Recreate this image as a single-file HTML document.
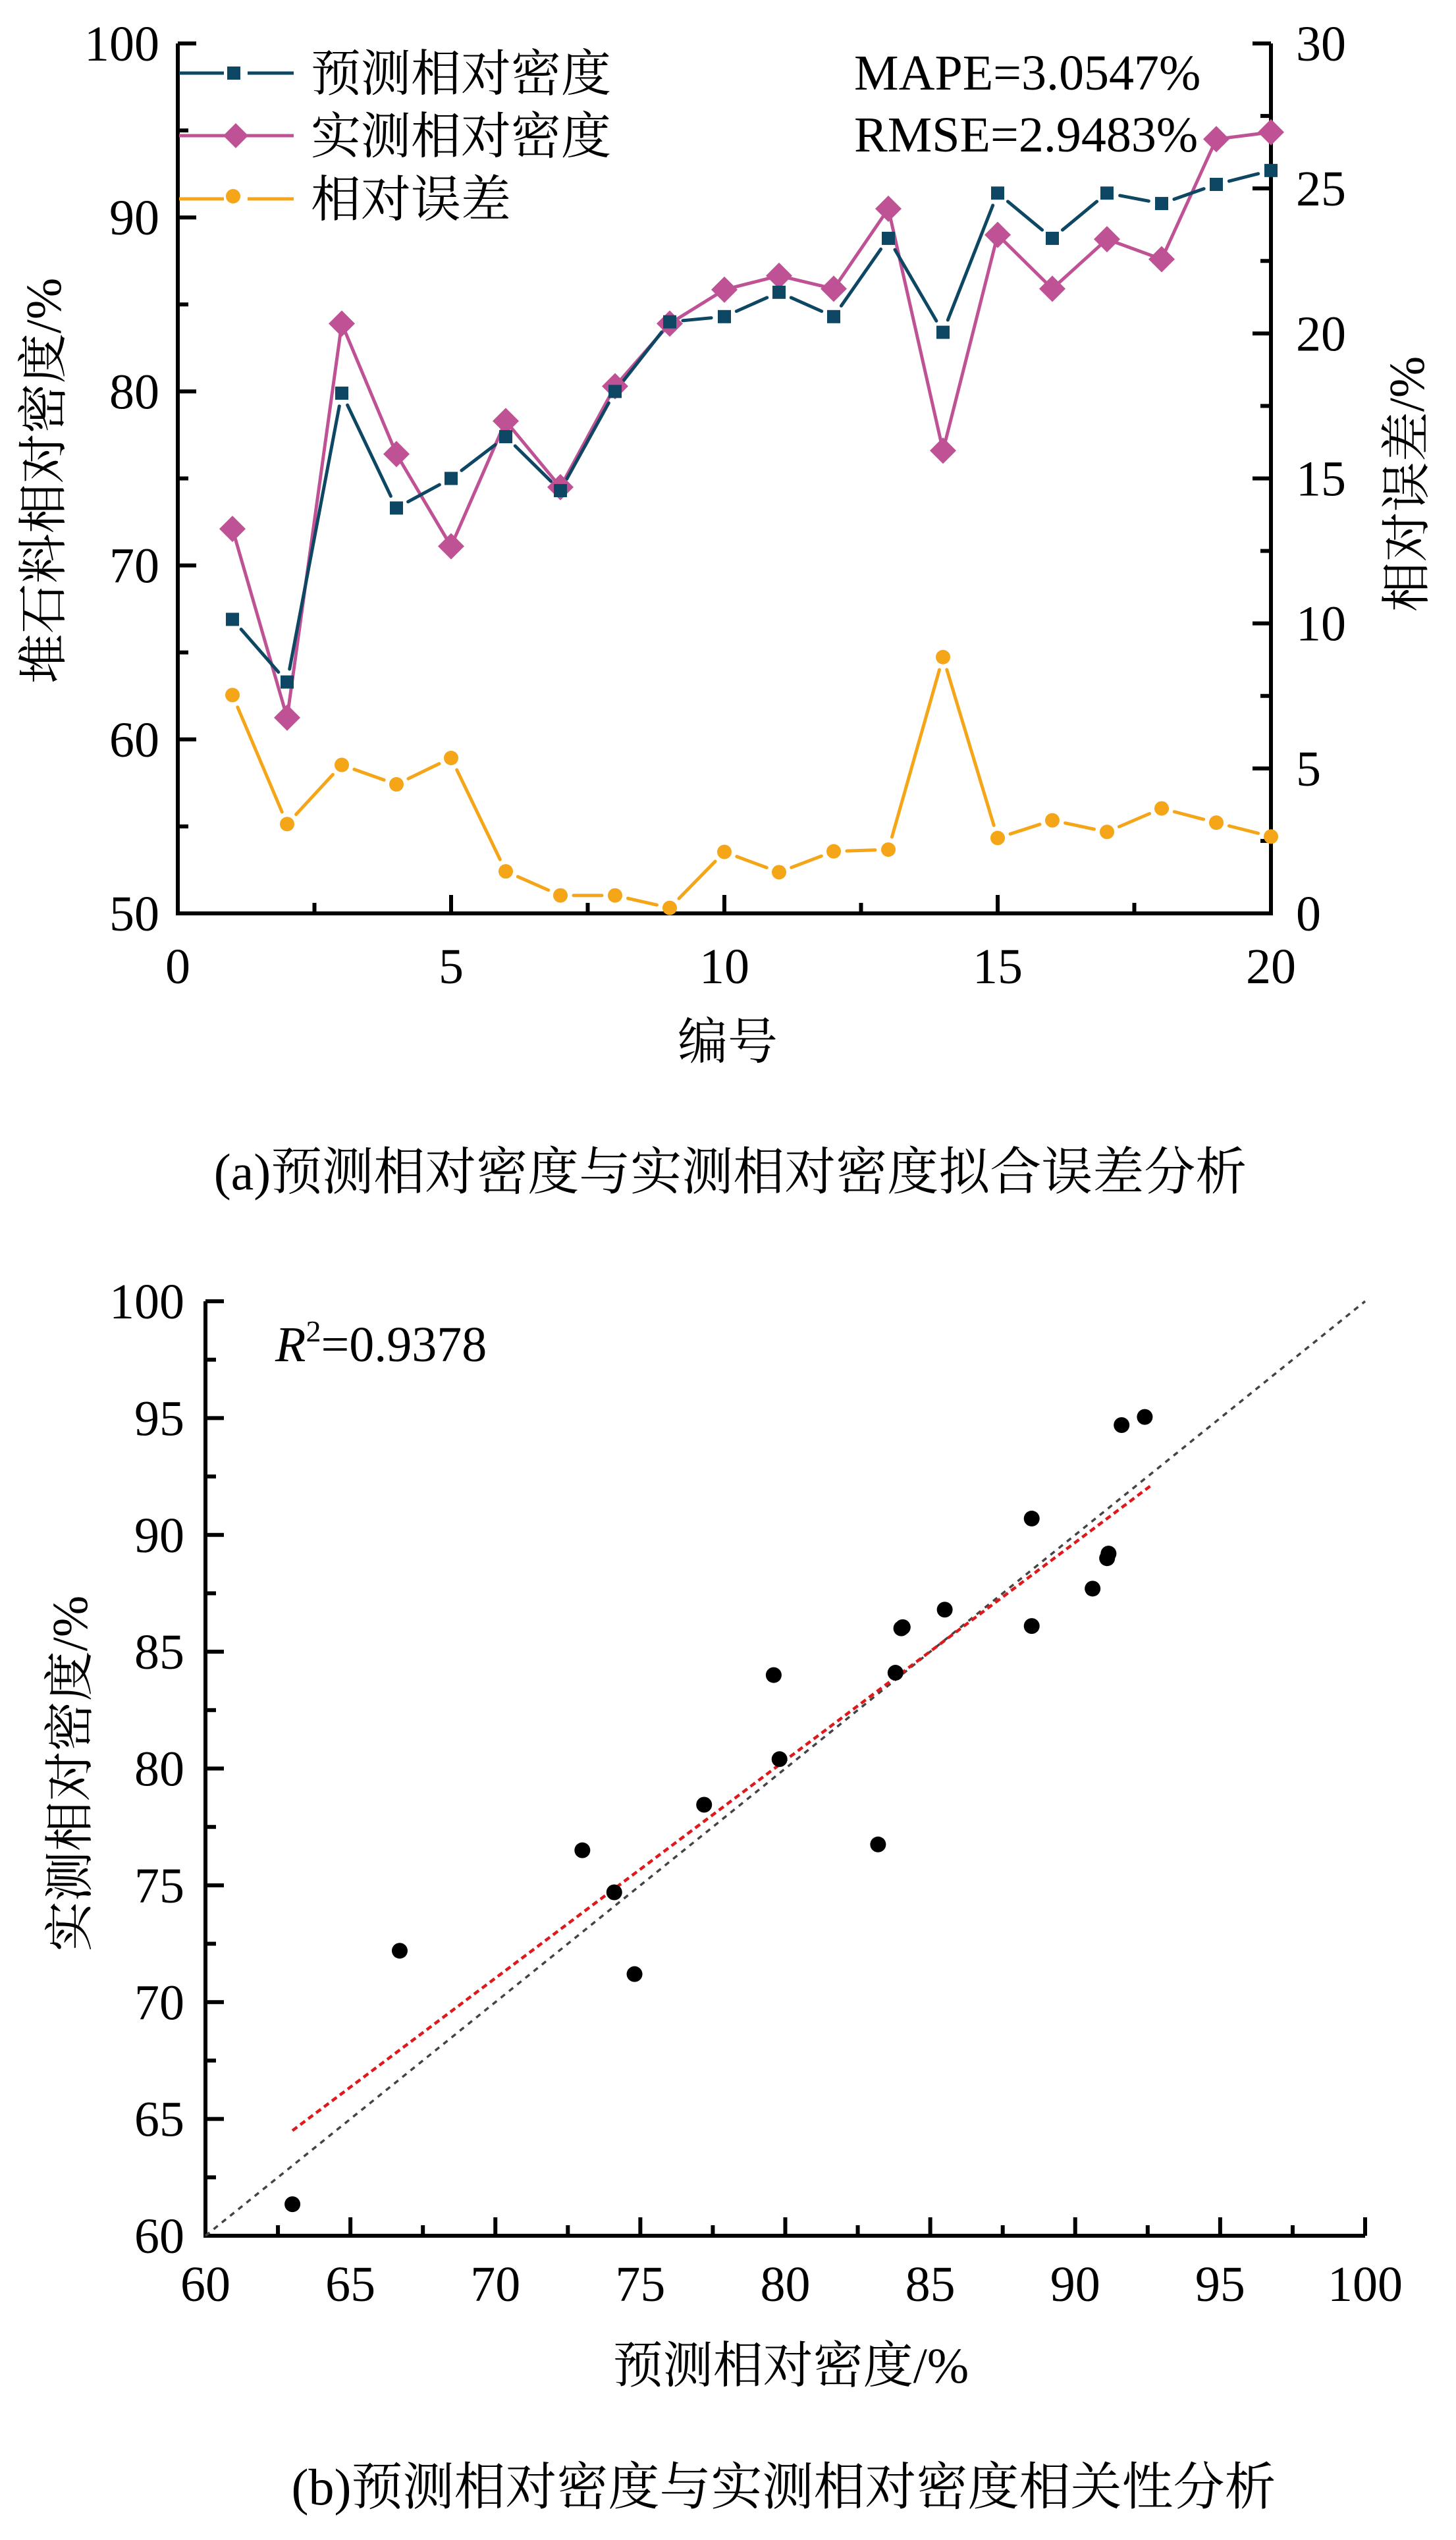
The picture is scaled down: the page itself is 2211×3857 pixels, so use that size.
<!DOCTYPE html>
<html><head><meta charset="utf-8"><style>
html,body{margin:0;padding:0;background:#fff}
svg{display:block}
text,tspan{font-family:"Liberation Serif","Noto Serif CJK SC",serif !important;fill:#000}
</style></head><body>
<svg id="svg" width="2211" height="3857" viewBox="0 0 2211 3857" xmlns="http://www.w3.org/2000/svg" font-family="Liberation Serif, Noto Serif CJK SC, serif">
<g id="ga"></g>
<g id="gb"></g>
</svg>
<script>
// ---- Chart (a) data ----
const idx = [1,2,3,4,5,6,7,8,9,10,11,12,13,14,15,16,17,18,19,20];
const predicted = [66.9,63.3,79.9,73.3,75.0,77.4,74.3,80.0,84.0,84.3,85.7,84.3,88.8,83.4,91.4,88.8,91.4,90.8,91.9,92.7];
const measured = [72.1,61.25,83.9,76.4,71.1,78.3,74.5,80.3,83.9,85.85,86.65,85.9,90.5,76.6,89.0,85.9,88.75,87.6,94.5,94.9];
const relError = [7.53,3.08,5.12,4.45,5.36,1.45,0.62,0.62,0.19,2.12,1.42,2.14,2.2,8.84,2.6,3.21,2.81,3.62,3.13,2.65];
const xTicksA = [0,5,10,15,20];
const yLeftTicks = [50,60,70,80,90,100];
const yRightTicks = [0,5,10,15,20,25,30];
// ---- Chart (b) data ----
const scatterX = [63.0,66.7,73.0,74.1,74.8,77.2,79.6,79.8,83.2,83.8,84.0,84.05,85.5,88.5,88.5,90.6,91.1,91.15,91.6,92.4];
const scatterY = [61.35,72.2,76.5,74.7,71.2,78.45,84.0,80.4,76.75,84.1,86.0,86.05,86.8,90.7,86.1,87.7,89.0,89.2,94.7,95.05];
const fitX = [63.0,92.6];
const fitY = [64.5,92.1];
const refLine = [60,100];
const ticksB = [60,65,70,75,80,85,90,95,100];

const NS='http://www.w3.org/2000/svg';
function mk(parent,tag,attrs,txt){const e=document.createElementNS(NS,tag);for(const k in attrs)e.setAttribute(k,attrs[k]);if(txt!==undefined)e.textContent=txt;parent.appendChild(e);return e;}

// ===== Chart A =====
const ga=document.getElementById('ga');
const AL=270,AR=1930,AT=66,AB=1387;
const xA=v=>AL+(v-0)/20*(AR-AL);
const yL=v=>AB-(v-50)/50*(AB-AT);
const yR=v=>AB-(v-0)/30*(AB-AT);
const C_PRED='#0d4763',C_MEAS='#bf5294',C_ERR='#f5a518';

let ax=mk(ga,'path',{d:`M${AL},${AT} V${AB} H${AR} V${AT}`,fill:'none',stroke:'#000','stroke-width':6});

for(let v=50;v<=100;v+=5){const maj=v%10===0;const t=mk(ga,'line',{x1:AL,x2:AL+(maj?28:16),y1:yL(v),y2:yL(v),stroke:'#000','stroke-width':6});
}
yLeftTicks.forEach(v=>{const t=mk(ga,'text',{x:242,y:yL(v)+26,'font-size':76,'text-anchor':'end'},String(v));
});
for(let v=0;v<=30;v+=2.5){const maj=v%5===0;const t=mk(ga,'line',{x1:AR,x2:AR-(maj?28:16),y1:yR(v),y2:yR(v),stroke:'#000','stroke-width':6});
}
yRightTicks.forEach(v=>{const t=mk(ga,'text',{x:1968,y:yR(v)+26,'font-size':76,'text-anchor':'start'},String(v));
});
for(let v=0;v<=20;v+=2.5){const maj=v%5===0;const t=mk(ga,'line',{x1:xA(v),x2:xA(v),y1:AB,y2:AB-(maj?28:16),stroke:'#000','stroke-width':6});
}
xTicksA.forEach(v=>{const t=mk(ga,'text',{x:xA(v),y:1493,'font-size':76,'text-anchor':'middle'},String(v));
});

function gapLine(g,xs,ys,color,gap,name){for(let i=0;i<xs.length-1;i++){const x1=xs[i],y1=ys[i],x2=xs[i+1],y2=ys[i+1];const d=Math.hypot(x2-x1,y2-y1);if(d<2*gap+2)continue;const ux=(x2-x1)/d,uy=(y2-y1)/d;
const l=mk(g,'line',{x1:x1+ux*gap,y1:y1+uy*gap,x2:x2-ux*gap,y2:y2-uy*gap,stroke:color,'stroke-width':5,'stroke-linecap':'round'});
}}

const exs=idx.map(xA),eys=relError.map(yR);
gapLine(ga,exs,eys,C_ERR,20,'error-line-segment');
exs.forEach((x,i)=>{const c=mk(ga,'circle',{cx:x,cy:eys[i],r:11,fill:C_ERR});});
const mxs=idx.map(xA),mys=measured.map(yL);
const mp=mk(ga,'polyline',{points:mxs.map((x,i)=>x+','+mys[i]).join(' '),fill:'none',stroke:C_MEAS,'stroke-width':5,'stroke-linejoin':'round'});

const pxs=idx.map(xA),pys=predicted.map(yL);
gapLine(ga,pxs,pys,C_PRED,20,'predicted-line-segment');
mxs.forEach((x,i)=>{const y=mys[i];const d=mk(ga,'polygon',{points:`${x},${y-20} ${x+20},${y} ${x},${y+20} ${x-20},${y}`,fill:C_MEAS});
});
pxs.forEach((x,i)=>{const r=mk(ga,'rect',{x:x-10,y:pys[i]-10,width:20,height:20,fill:C_PRED});
});

const lg=mk(ga,'g',{});
const legY=[111,206,302];
[[C_PRED,'预测相对密度','sq'],[C_MEAS,'实测相对密度','dm'],[C_ERR,'相对误差','ci']].forEach((e,i)=>{
 const y=legY[i];const ent=mk(lg,'g',{});
 if(e[2]==='dm'){mk(ent,'line',{x1:272,x2:446,y1:y,y2:y,stroke:e[0],'stroke-width':5});mk(ent,'polygon',{points:`358,${y-19} 377,${y} 358,${y+19} 339,${y}`,fill:e[0]});}
 else{mk(ent,'line',{x1:272,x2:340,y1:y,y2:y,stroke:e[0],'stroke-width':5});mk(ent,'line',{x1:376,x2:446,y1:y,y2:y,stroke:e[0],'stroke-width':5});
  if(e[2]==='sq')mk(ent,'rect',{x:345,y:y-10,width:20,height:20,fill:e[0]});else mk(ent,'circle',{cx:354,cy:y-4,r:11,fill:e[0]});}
 mk(ent,'text',{x:472,y:y+27,'font-size':76},e[1]);
});
let t;
t=mk(ga,'text',{x:1297,y:136,'font-size':76},'MAPE=3.0547%');
t=mk(ga,'text',{x:1297,y:230,'font-size':76},'RMSE=2.9483%');
t=mk(ga,'text',{x:0,y:0,'font-size':76,'text-anchor':'middle',transform:'translate(92,730) rotate(-90)'},'堆石料相对密度/%');
t=mk(ga,'text',{x:0,y:0,'font-size':76,'text-anchor':'middle',transform:'translate(2162,735) rotate(-90)'},'相对误差/%');
t=mk(ga,'text',{x:1105,y:1608,'font-size':76,'text-anchor':'middle'},'编号');
t=mk(ga,'text',{x:1109,y:1806,'font-size':78,'text-anchor':'middle'},'(a)预测相对密度与实测相对密度拟合误差分析');

// ===== Chart B =====
const gb=document.getElementById('gb');
const BL=312,BR=2073,BT=1976,BB=3395;
const xB=v=>BL+(v-60)/40*(BR-BL);
const yB=v=>BB-(v-60)/40*(BB-BT);
let bx=mk(gb,'path',{d:`M${BL},${BT} V${BB} H${BR}`,fill:'none',stroke:'#000','stroke-width':6});

for(let v=60;v<=100;v+=2.5){const maj=v%5===0;
 let a=mk(gb,'line',{x1:BL,x2:BL+(maj?28:16),y1:yB(v),y2:yB(v),stroke:'#000','stroke-width':6});
 let b=mk(gb,'line',{x1:xB(v),x2:xB(v),y1:BB,y2:BB-(maj?28:16),stroke:'#000','stroke-width':6});}
ticksB.forEach(v=>{
 let a=mk(gb,'text',{x:280,y:yB(v)+26,'font-size':76,'text-anchor':'end'},String(v));
 let b=mk(gb,'text',{x:xB(v),y:3494,'font-size':76,'text-anchor':'middle'},String(v));});
let rl=mk(gb,'line',{x1:xB(refLine[0]),y1:yB(refLine[0]),x2:xB(refLine[1]),y2:yB(refLine[1]),stroke:'#444','stroke-width':3.5,'stroke-dasharray':'8,8'});

let fl=mk(gb,'line',{x1:xB(fitX[0]),y1:yB(fitY[0]),x2:xB(fitX[1]),y2:yB(fitY[1]),stroke:'#e0181c','stroke-width':4.5,'stroke-dasharray':'9,6'});

scatterX.forEach((v,i)=>{const c=mk(gb,'circle',{cx:xB(v),cy:yB(scatterY[i]),r:12,fill:'#000'});
 });
t=mk(gb,'text',{x:418,y:2067,'font-size':76},'');
mk(t,'tspan',{'font-style':'italic'},'R');mk(t,'tspan',{'font-size':46,dy:-30},'2');mk(t,'tspan',{dy:30},'=0.9378');
t=mk(gb,'text',{x:0,y:0,'font-size':76,'text-anchor':'middle',transform:'translate(132,2693) rotate(-90)'},'实测相对密度/%');
t=mk(gb,'text',{x:1201,y:3618,'font-size':76,'text-anchor':'middle'},'预测相对密度/%');
t=mk(gb,'text',{x:1190,y:3803,'font-size':78,'text-anchor':'middle'},'(b)预测相对密度与实测相对密度相关性分析');
</script>
</body></html>
